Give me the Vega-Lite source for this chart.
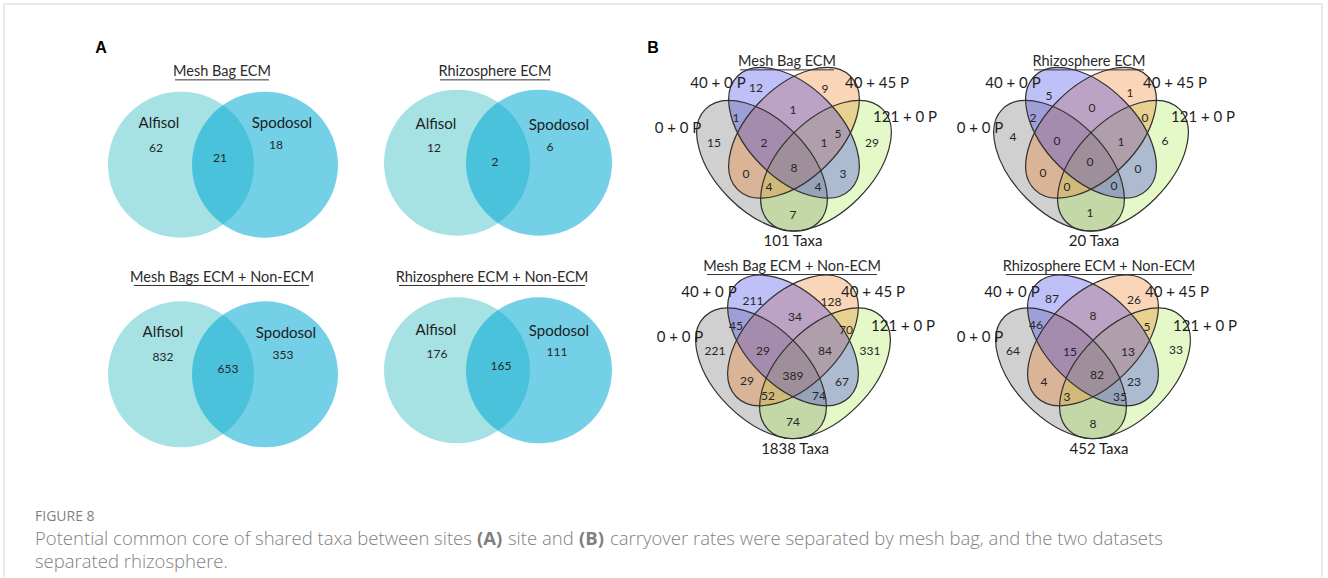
{
  "$schema": "https://vega.github.io/schema/vega-lite/v6.json",
  "width": 1328,
  "height": 578,
  "autosize": {"type": "fit", "contains": "padding"},
  "padding": 0,
  "background": "#ffffff",
  "config": {"view": {"stroke": null}},
  "datasets": {
    "frame": [
      {"x": 4, "y": 4, "x2": 1322, "y2": 4},
      {"x": 4, "y": 4, "x2": 4, "y2": 578},
      {"x": 1322, "y": 4, "x2": 1322, "y2": 578}
    ],
    "circles": [
      {"panel": "A1", "set": "Alfisol", "cx": 181, "cy": 165},
      {"panel": "A1", "set": "Spodosol", "cx": 265, "cy": 165},
      {"panel": "A2", "set": "Alfisol", "cx": 457, "cy": 163},
      {"panel": "A2", "set": "Spodosol", "cx": 539, "cy": 163},
      {"panel": "A3", "set": "Alfisol", "cx": 181, "cy": 375},
      {"panel": "A3", "set": "Spodosol", "cx": 265, "cy": 375},
      {"panel": "A4", "set": "Alfisol", "cx": 457, "cy": 371},
      {"panel": "A4", "set": "Spodosol", "cx": 539, "cy": 371}
    ],
    "ellipses": [
      {"panel": "B1", "set": "0 + 0 P", "cx": 762, "cy": 166},
      {"panel": "B1", "set": "121 + 0 P", "cx": 826, "cy": 166},
      {"panel": "B1", "set": "40 + 45 P", "cx": 794, "cy": 133},
      {"panel": "B1", "set": "40 + 0 P", "cx": 794, "cy": 133},
      {"panel": "B2", "set": "0 + 0 P", "cx": 1059, "cy": 166},
      {"panel": "B2", "set": "121 + 0 P", "cx": 1123, "cy": 166},
      {"panel": "B2", "set": "40 + 45 P", "cx": 1091, "cy": 133},
      {"panel": "B2", "set": "40 + 0 P", "cx": 1091, "cy": 133},
      {"panel": "B3", "set": "0 + 0 P", "cx": 761, "cy": 374},
      {"panel": "B3", "set": "121 + 0 P", "cx": 825, "cy": 374},
      {"panel": "B3", "set": "40 + 45 P", "cx": 793, "cy": 341},
      {"panel": "B3", "set": "40 + 0 P", "cx": 793, "cy": 341},
      {"panel": "B4", "set": "0 + 0 P", "cx": 1061, "cy": 374},
      {"panel": "B4", "set": "121 + 0 P", "cx": 1125, "cy": 374},
      {"panel": "B4", "set": "40 + 45 P", "cx": 1093, "cy": 341},
      {"panel": "B4", "set": "40 + 0 P", "cx": 1093, "cy": 341}
    ],
    "titles": [
      {"panel": "A1", "text": "Mesh Bag ECM", "tx": 222, "ty": 72, "u1": 175, "u2": 269, "uy": 80},
      {"panel": "A2", "text": "Rhizosphere ECM", "tx": 495, "ty": 72, "u1": 440, "u2": 550, "uy": 80},
      {"panel": "A3", "text": "Mesh Bags ECM + Non-ECM", "tx": 222, "ty": 278, "u1": 134, "u2": 309, "uy": 286},
      {"panel": "A4", "text": "Rhizosphere ECM + Non-ECM", "tx": 492, "ty": 278, "u1": 399, "u2": 585, "uy": 286},
      {"panel": "B1", "text": "Mesh Bag ECM", "tx": 787, "ty": 62, "u1": 740, "u2": 834, "uy": 70},
      {"panel": "B2", "text": "Rhizosphere ECM", "tx": 1089, "ty": 62, "u1": 1034, "u2": 1144, "uy": 70},
      {"panel": "B3", "text": "Mesh Bag ECM + Non-ECM", "tx": 792, "ty": 267, "u1": 707, "u2": 877, "uy": 275},
      {"panel": "B4", "text": "Rhizosphere ECM + Non-ECM", "tx": 1099, "ty": 267, "u1": 1006, "u2": 1192, "uy": 275}
    ],
    "labels": [
      {"panel": "A1", "text": "Alfisol", "lx": 159, "ly": 123},
      {"panel": "A1", "text": "Spodosol", "lx": 282, "ly": 123},
      {"panel": "A2", "text": "Alfisol", "lx": 436, "ly": 124},
      {"panel": "A2", "text": "Spodosol", "lx": 559, "ly": 125},
      {"panel": "A3", "text": "Alfisol", "lx": 163, "ly": 333},
      {"panel": "A3", "text": "Spodosol", "lx": 286, "ly": 334},
      {"panel": "A4", "text": "Alfisol", "lx": 436, "ly": 331},
      {"panel": "A4", "text": "Spodosol", "lx": 559, "ly": 332},
      {"panel": "B1", "text": "40 + 0 P", "lx": 718, "ly": 83},
      {"panel": "B1", "text": "40 + 45 P", "lx": 877, "ly": 83},
      {"panel": "B1", "text": "121 + 0 P", "lx": 905, "ly": 117},
      {"panel": "B1", "text": "0 + 0 P", "lx": 678, "ly": 128},
      {"panel": "B1", "text": "101 Taxa", "lx": 793, "ly": 241},
      {"panel": "B2", "text": "40 + 0 P", "lx": 1013, "ly": 83},
      {"panel": "B2", "text": "40 + 45 P", "lx": 1175, "ly": 83},
      {"panel": "B2", "text": "121 + 0 P", "lx": 1203, "ly": 117},
      {"panel": "B2", "text": "0 + 0 P", "lx": 980, "ly": 128},
      {"panel": "B2", "text": "20 Taxa", "lx": 1094, "ly": 241},
      {"panel": "B3", "text": "40 + 0 P", "lx": 709, "ly": 293},
      {"panel": "B3", "text": "40 + 45 P", "lx": 873, "ly": 293},
      {"panel": "B3", "text": "121 + 0 P", "lx": 903, "ly": 327},
      {"panel": "B3", "text": "0 + 0 P", "lx": 680, "ly": 338},
      {"panel": "B3", "text": "1838 Taxa", "lx": 795, "ly": 450},
      {"panel": "B4", "text": "40 + 0 P", "lx": 1012, "ly": 293},
      {"panel": "B4", "text": "40 + 45 P", "lx": 1177, "ly": 293},
      {"panel": "B4", "text": "121 + 0 P", "lx": 1205, "ly": 327},
      {"panel": "B4", "text": "0 + 0 P", "lx": 980, "ly": 338},
      {"panel": "B4", "text": "452 Taxa", "lx": 1099, "ly": 450}
    ],
    "counts": [
      {"panel": "A1", "region": "Alfisol", "n": 62, "lx": 156, "ly": 148},
      {"panel": "A1", "region": "Alfisol & Spodosol", "n": 21, "lx": 220, "ly": 158},
      {"panel": "A1", "region": "Spodosol", "n": 18, "lx": 276, "ly": 145},
      {"panel": "A2", "region": "Alfisol", "n": 12, "lx": 434, "ly": 148},
      {"panel": "A2", "region": "Alfisol & Spodosol", "n": 2, "lx": 495, "ly": 162},
      {"panel": "A2", "region": "Spodosol", "n": 6, "lx": 550, "ly": 147},
      {"panel": "A3", "region": "Alfisol", "n": 832, "lx": 163, "ly": 358},
      {"panel": "A3", "region": "Alfisol & Spodosol", "n": 653, "lx": 228, "ly": 370},
      {"panel": "A3", "region": "Spodosol", "n": 353, "lx": 283, "ly": 356},
      {"panel": "A4", "region": "Alfisol", "n": 176, "lx": 437, "ly": 355},
      {"panel": "A4", "region": "Alfisol & Spodosol", "n": 165, "lx": 501, "ly": 367},
      {"panel": "A4", "region": "Spodosol", "n": 111, "lx": 557, "ly": 353},

      {"panel": "B1", "region": "A", "n": 15, "lx": 714, "ly": 143},
      {"panel": "B1", "region": "B", "n": 12, "lx": 756, "ly": 88},
      {"panel": "B1", "region": "C", "n": 9, "lx": 825, "ly": 89},
      {"panel": "B1", "region": "D", "n": 29, "lx": 872, "ly": 143},
      {"panel": "B1", "region": "AB", "n": 1, "lx": 736, "ly": 118},
      {"panel": "B1", "region": "BC", "n": 1, "lx": 793, "ly": 110},
      {"panel": "B1", "region": "CD", "n": 5, "lx": 838, "ly": 134},
      {"panel": "B1", "region": "AC", "n": 0, "lx": 746, "ly": 174},
      {"panel": "B1", "region": "BD", "n": 3, "lx": 843, "ly": 174},
      {"panel": "B1", "region": "AD", "n": 7, "lx": 793, "ly": 215},
      {"panel": "B1", "region": "ABC", "n": 2, "lx": 764, "ly": 143},
      {"panel": "B1", "region": "BCD", "n": 1, "lx": 824, "ly": 143},
      {"panel": "B1", "region": "ACD", "n": 4, "lx": 769, "ly": 187},
      {"panel": "B1", "region": "ABD", "n": 4, "lx": 818, "ly": 187},
      {"panel": "B1", "region": "ABCD", "n": 8, "lx": 794, "ly": 168},

      {"panel": "B2", "region": "A", "n": 4, "lx": 1013, "ly": 137},
      {"panel": "B2", "region": "B", "n": 5, "lx": 1049, "ly": 96},
      {"panel": "B2", "region": "C", "n": 1, "lx": 1130, "ly": 93},
      {"panel": "B2", "region": "D", "n": 6, "lx": 1165, "ly": 141},
      {"panel": "B2", "region": "AB", "n": 2, "lx": 1033, "ly": 118},
      {"panel": "B2", "region": "BC", "n": 0, "lx": 1092, "ly": 108},
      {"panel": "B2", "region": "CD", "n": 0, "lx": 1145, "ly": 118},
      {"panel": "B2", "region": "AC", "n": 0, "lx": 1043, "ly": 173},
      {"panel": "B2", "region": "BD", "n": 0, "lx": 1138, "ly": 169},
      {"panel": "B2", "region": "AD", "n": 1, "lx": 1090, "ly": 213},
      {"panel": "B2", "region": "ABC", "n": 0, "lx": 1057, "ly": 141},
      {"panel": "B2", "region": "BCD", "n": 1, "lx": 1121, "ly": 142},
      {"panel": "B2", "region": "ACD", "n": 0, "lx": 1067, "ly": 187},
      {"panel": "B2", "region": "ABD", "n": 0, "lx": 1114, "ly": 186},
      {"panel": "B2", "region": "ABCD", "n": 0, "lx": 1090, "ly": 162},

      {"panel": "B3", "region": "A", "n": 221, "lx": 715, "ly": 352},
      {"panel": "B3", "region": "B", "n": 211, "lx": 753, "ly": 302},
      {"panel": "B3", "region": "C", "n": 128, "lx": 831, "ly": 303},
      {"panel": "B3", "region": "D", "n": 331, "lx": 870, "ly": 352},
      {"panel": "B3", "region": "AB", "n": 45, "lx": 736, "ly": 327},
      {"panel": "B3", "region": "BC", "n": 34, "lx": 795, "ly": 318},
      {"panel": "B3", "region": "CD", "n": 70, "lx": 846, "ly": 331},
      {"panel": "B3", "region": "AC", "n": 29, "lx": 747, "ly": 382},
      {"panel": "B3", "region": "BD", "n": 67, "lx": 842, "ly": 383},
      {"panel": "B3", "region": "AD", "n": 74, "lx": 793, "ly": 423},
      {"panel": "B3", "region": "ABC", "n": 29, "lx": 763, "ly": 352},
      {"panel": "B3", "region": "BCD", "n": 84, "lx": 825, "ly": 352},
      {"panel": "B3", "region": "ACD", "n": 52, "lx": 768, "ly": 397},
      {"panel": "B3", "region": "ABD", "n": 74, "lx": 819, "ly": 397},
      {"panel": "B3", "region": "ABCD", "n": 389, "lx": 793, "ly": 377},

      {"panel": "B4", "region": "A", "n": 64, "lx": 1013, "ly": 352},
      {"panel": "B4", "region": "B", "n": 87, "lx": 1052, "ly": 300},
      {"panel": "B4", "region": "C", "n": 26, "lx": 1134, "ly": 301},
      {"panel": "B4", "region": "D", "n": 33, "lx": 1176, "ly": 351},
      {"panel": "B4", "region": "AB", "n": 46, "lx": 1036, "ly": 326},
      {"panel": "B4", "region": "BC", "n": 8, "lx": 1093, "ly": 317},
      {"panel": "B4", "region": "CD", "n": 5, "lx": 1147, "ly": 328},
      {"panel": "B4", "region": "AC", "n": 4, "lx": 1044, "ly": 383},
      {"panel": "B4", "region": "BD", "n": 23, "lx": 1134, "ly": 383},
      {"panel": "B4", "region": "AD", "n": 8, "lx": 1093, "ly": 425},
      {"panel": "B4", "region": "ABC", "n": 15, "lx": 1070, "ly": 353},
      {"panel": "B4", "region": "BCD", "n": 13, "lx": 1128, "ly": 353},
      {"panel": "B4", "region": "ACD", "n": 3, "lx": 1067, "ly": 398},
      {"panel": "B4", "region": "ABD", "n": 35, "lx": 1120, "ly": 398},
      {"panel": "B4", "region": "ABCD", "n": 82, "lx": 1097, "ly": 376}
    ],
    "letters": [
      {"text": "A", "lx": 101, "ly": 48},
      {"text": "B", "lx": 653, "ly": 48}
    ],
    "figureLabel": [
      {"text": "FIGURE 8", "lx": 35, "ly": 518}
    ],
    "captionPlain": [
      {"text": "Potential common core of shared taxa between sites", "lx": 35, "ly": 540},
      {"text": "site and", "lx": 508, "ly": 540},
      {"text": "carryover rates were separated by mesh bag, and the two datasets", "lx": 610, "ly": 540},
      {"text": "separated rhizosphere.", "lx": 35, "ly": 563}
    ],
    "captionBold": [
      {"text": "(A)", "lx": 477, "ly": 540},
      {"text": "(B)", "lx": 579, "ly": 540}
    ]
  },
  "layer": [
    {
      "data": {"name": "frame"},
      "mark": {"type": "rule", "color": "#d4d4d4", "strokeWidth": 1},
      "encoding": {
        "x": {"field": "x", "type": "quantitative", "scale": {"domain": [0, 1328], "nice": false, "zero": false}, "axis": null},
        "y": {"field": "y", "type": "quantitative", "scale": {"domain": [0, 578], "nice": false, "zero": false, "reverse": true}, "axis": null},
        "x2": {"field": "x2"},
        "y2": {"field": "y2"}
      }
    },
    {
      "data": {"name": "circles"},
      "mark": {"type": "point", "shape": "circle", "filled": true, "size": 21316, "opacity": 1, "strokeWidth": 0},
      "encoding": {
        "x": {"field": "cx", "type": "quantitative"},
        "y": {"field": "cy", "type": "quantitative"},
        "color": {
          "field": "set", "type": "nominal", "legend": null,
          "scale": {
            "domain": ["Alfisol", "Spodosol", "0 + 0 P", "40 + 0 P", "40 + 45 P", "121 + 0 P"],
            "range": ["#a6e1e4", "rgba(0,170,212,0.55)", "rgba(98,98,98,0.3)", "rgba(45,45,232,0.3)", "rgba(238,115,15,0.3)", "rgba(165,232,72,0.3)"]
          }
        }
      }
    },
    {
      "data": {"name": "ellipses"},
      "transform": [{"filter": {"field": "set", "equal": "0 + 0 P"}}],
      "mark": {
        "type": "point", "filled": true, "size": 25600, "angle": 45, "opacity": 1, "strokeWidth": 0,
        "shape": "M 1 0 C 1 0.3176 0.5523 0.575 0 0.575 C -0.5523 0.575 -1 0.3176 -1 0 C -1 -0.3176 -0.5523 -0.575 0 -0.575 C 0.5523 -0.575 1 -0.3176 1 0 Z"
      },
      "encoding": {
        "x": {"field": "cx", "type": "quantitative"},
        "y": {"field": "cy", "type": "quantitative"},
        "color": {"field": "set", "type": "nominal", "legend": null}
      }
    },
    {
      "data": {"name": "ellipses"},
      "transform": [{"filter": {"field": "set", "oneOf": ["121 + 0 P", "40 + 45 P"]}}],
      "mark": {
        "type": "point", "filled": true, "size": 25600, "angle": 135, "opacity": 1, "strokeWidth": 0,
        "shape": "M 1 0 C 1 0.3176 0.5523 0.575 0 0.575 C -0.5523 0.575 -1 0.3176 -1 0 C -1 -0.3176 -0.5523 -0.575 0 -0.575 C 0.5523 -0.575 1 -0.3176 1 0 Z"
      },
      "encoding": {
        "x": {"field": "cx", "type": "quantitative"},
        "y": {"field": "cy", "type": "quantitative"},
        "color": {"field": "set", "type": "nominal", "legend": null}
      }
    },
    {
      "data": {"name": "ellipses"},
      "transform": [{"filter": {"field": "set", "equal": "40 + 0 P"}}],
      "mark": {
        "type": "point", "filled": true, "size": 25600, "angle": 45, "opacity": 1, "strokeWidth": 0,
        "shape": "M 1 0 C 1 0.3176 0.5523 0.575 0 0.575 C -0.5523 0.575 -1 0.3176 -1 0 C -1 -0.3176 -0.5523 -0.575 0 -0.575 C 0.5523 -0.575 1 -0.3176 1 0 Z"
      },
      "encoding": {
        "x": {"field": "cx", "type": "quantitative"},
        "y": {"field": "cy", "type": "quantitative"},
        "color": {"field": "set", "type": "nominal", "legend": null}
      }
    },
    {
      "data": {"name": "ellipses"},
      "transform": [{"filter": {"field": "set", "oneOf": ["0 + 0 P", "40 + 0 P"]}}],
      "mark": {
        "type": "point", "filled": false, "size": 25600, "angle": 45, "opacity": 1, "stroke": "#303030", "strokeWidth": 1.2,
        "shape": "M 1 0 C 1 0.3176 0.5523 0.575 0 0.575 C -0.5523 0.575 -1 0.3176 -1 0 C -1 -0.3176 -0.5523 -0.575 0 -0.575 C 0.5523 -0.575 1 -0.3176 1 0 Z"
      },
      "encoding": {
        "x": {"field": "cx", "type": "quantitative"},
        "y": {"field": "cy", "type": "quantitative"}
      }
    },
    {
      "data": {"name": "ellipses"},
      "transform": [{"filter": {"field": "set", "oneOf": ["40 + 45 P", "121 + 0 P"]}}],
      "mark": {
        "type": "point", "filled": false, "size": 25600, "angle": 135, "opacity": 1, "stroke": "#303030", "strokeWidth": 1.2,
        "shape": "M 1 0 C 1 0.3176 0.5523 0.575 0 0.575 C -0.5523 0.575 -1 0.3176 -1 0 C -1 -0.3176 -0.5523 -0.575 0 -0.575 C 0.5523 -0.575 1 -0.3176 1 0 Z"
      },
      "encoding": {
        "x": {"field": "cx", "type": "quantitative"},
        "y": {"field": "cy", "type": "quantitative"}
      }
    },
    {
      "data": {"name": "titles"},
      "mark": {"type": "rule", "color": "#333333", "strokeWidth": 1},
      "encoding": {
        "x": {"field": "u1", "type": "quantitative"},
        "x2": {"field": "u2"},
        "y": {"field": "uy", "type": "quantitative"}
      }
    },
    {
      "data": {"name": "titles"},
      "mark": {"type": "text", "font": "Lato", "fontSize": 14.5, "color": "#2a2a2a", "align": "center", "baseline": "middle"},
      "encoding": {
        "x": {"field": "tx", "type": "quantitative"},
        "y": {"field": "ty", "type": "quantitative"},
        "text": {"field": "text", "type": "nominal"}
      }
    },
    {
      "data": {"name": "labels"},
      "mark": {"type": "text", "font": "Lato", "fontSize": 15, "color": "#1e1e1e", "align": "center", "baseline": "middle"},
      "encoding": {
        "x": {"field": "lx", "type": "quantitative"},
        "y": {"field": "ly", "type": "quantitative"},
        "text": {"field": "text", "type": "nominal"}
      }
    },
    {
      "data": {"name": "counts"},
      "mark": {"type": "text", "font": "Lato", "fontSize": 12, "color": "#262626", "align": "center", "baseline": "middle"},
      "encoding": {
        "x": {"field": "lx", "type": "quantitative"},
        "y": {"field": "ly", "type": "quantitative"},
        "text": {"field": "n", "type": "quantitative", "format": "d"}
      }
    },
    {
      "data": {"name": "letters"},
      "mark": {"type": "text", "font": "Liberation Sans", "fontSize": 16, "fontWeight": "bold", "color": "#000000", "align": "center", "baseline": "middle"},
      "encoding": {
        "x": {"field": "lx", "type": "quantitative"},
        "y": {"field": "ly", "type": "quantitative"},
        "text": {"field": "text", "type": "nominal"}
      }
    },
    {
      "data": {"name": "figureLabel"},
      "mark": {"type": "text", "font": "Open Sans", "fontSize": 14, "color": "#7f7f7f", "align": "left", "baseline": "middle"},
      "encoding": {
        "x": {"field": "lx", "type": "quantitative"},
        "y": {"field": "ly", "type": "quantitative"},
        "text": {"field": "text", "type": "nominal"}
      }
    },
    {
      "data": {"name": "captionPlain"},
      "mark": {"type": "text", "font": "Open Sans", "fontSize": 18.5, "fontWeight": 300, "color": "#7f7f7f", "align": "left", "baseline": "middle"},
      "encoding": {
        "x": {"field": "lx", "type": "quantitative"},
        "y": {"field": "ly", "type": "quantitative"},
        "text": {"field": "text", "type": "nominal"}
      }
    },
    {
      "data": {"name": "captionBold"},
      "mark": {"type": "text", "font": "Open Sans", "fontSize": 18.5, "fontWeight": "bold", "color": "#7f7f7f", "align": "left", "baseline": "middle"},
      "encoding": {
        "x": {"field": "lx", "type": "quantitative"},
        "y": {"field": "ly", "type": "quantitative"},
        "text": {"field": "text", "type": "nominal"}
      }
    }
  ]
}
